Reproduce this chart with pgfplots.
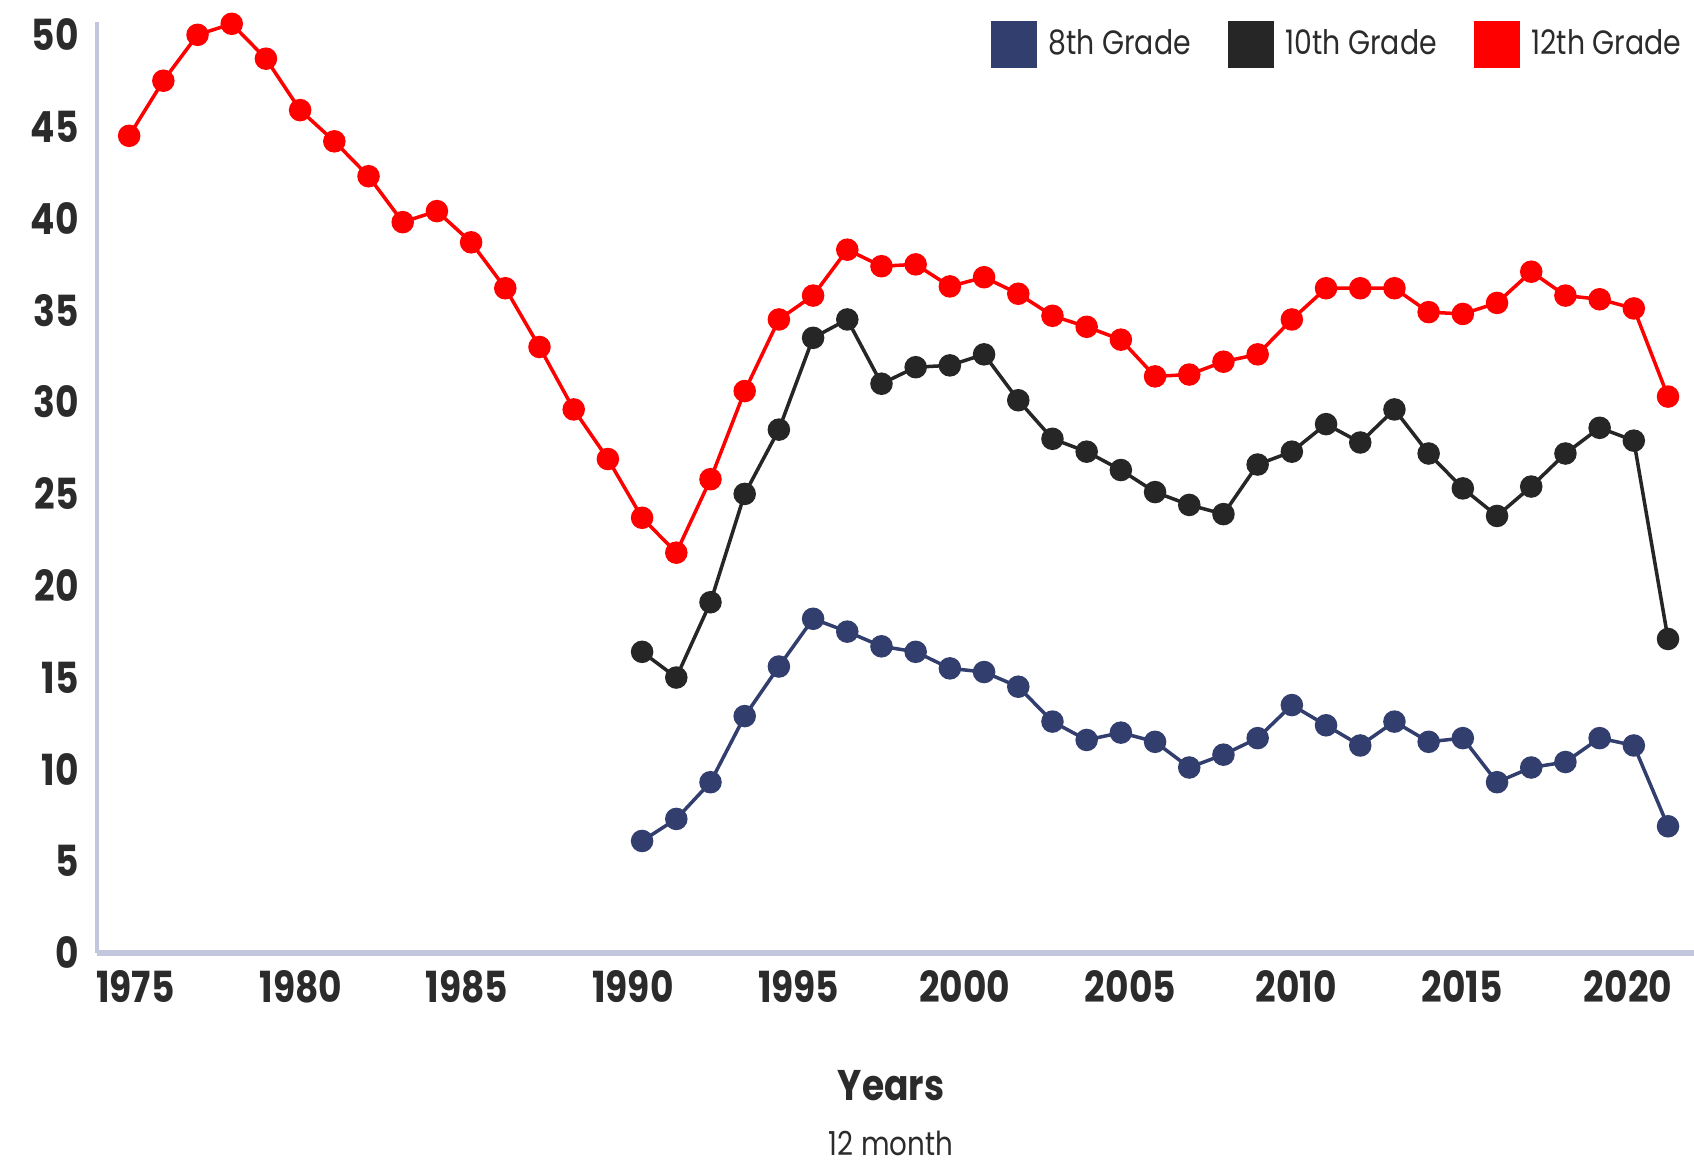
\documentclass[border=0pt]{standalone}
\usepackage{fontspec}
\setmainfont[FakeStretch=0.84]{Poppins}
\usepackage{pgfplots}
\pgfplotsset{compat=1.18}
\usepackage{xcolor}
\definecolor{gradeEight}{HTML}{323E6E}
\definecolor{gradeTen}{HTML}{262626}
\definecolor{gradeTwelve}{HTML}{FF0000}
\definecolor{axisLav}{HTML}{C3C7DE}
\definecolor{textDark}{HTML}{2B2B2B}

\pgfplotstableread{
year val
1991 6.1
1992 7.3
1993 9.3
1994 12.9
1995 15.6
1996 18.2
1997 17.5
1998 16.7
1999 16.4
2000 15.5
2001 15.3
2002 14.5
2003 12.6
2004 11.6
2005 12.0
2006 11.5
2007 10.1
2008 10.8
2009 11.7
2010 13.5
2011 12.4
2012 11.3
2013 12.6
2014 11.5
2015 11.7
2016 9.3
2017 10.1
2018 10.4
2019 11.7
2020 11.3
2021 6.9
}\eighth

\pgfplotstableread{
year val
1991 16.4
1992 15.0
1993 19.1
1994 25.0
1995 28.5
1996 33.5
1997 34.5
1998 31.0
1999 31.9
2000 32.0
2001 32.6
2002 30.1
2003 28.0
2004 27.3
2005 26.3
2006 25.1
2007 24.4
2008 23.9
2009 26.6
2010 27.3
2011 28.8
2012 27.8
2013 29.6
2014 27.2
2015 25.3
2016 23.8
2017 25.4
2018 27.2
2019 28.6
2020 27.9
2021 17.1
}\tenth

\pgfplotstableread{
year val
1976 44.5
1977 47.5
1978 50.0
1979 50.6
1980 48.7
1981 45.9
1982 44.2
1983 42.3
1984 39.8
1985 40.4
1986 38.7
1987 36.2
1988 33.0
1989 29.6
1990 26.9
1991 23.7
1992 21.8
1993 25.8
1994 30.6
1995 34.5
1996 35.8
1997 38.3
1998 37.4
1999 37.5
2000 36.3
2001 36.8
2002 35.9
2003 34.7
2004 34.1
2005 33.4
2006 31.4
2007 31.5
2008 32.2
2009 32.6
2010 34.5
2011 36.2
2012 36.2
2013 36.2
2014 34.9
2015 34.8
2016 35.4
2017 37.1
2018 35.8
2019 35.6
2020 35.1
2021 30.3
}\twelfth

\begin{document}
\begin{tikzpicture}
\path[use as bounding box] (-0.97cm,-2.11cm) rectangle (15.97cm,9.53cm);
\begin{axis}[
  at={(0,0)}, anchor=south west,
  scale only axis, width=15.97cm, height=9.31cm,
  xmin=1975.06, xmax=2021.76, ymin=0, ymax=50.7,
  axis lines*=left,
  x axis line style={axisLav, line width=1.5pt, -},
  y axis line style={axisLav, line width=1.2pt, -},
  major tick length=0pt,
  xtick={1976.18,1981.03,1985.88,1990.73,1995.58,2000.43,2005.28,2010.13,2014.98,2019.83},
  xticklabels={1975,1980,1985,1990,1995,2000,2005,2010,2015,2020},
  ytick={0,5,...,50},
  /pgf/number format/assume math mode=true,
  ticklabel style={font=\fontsize{12.2}{14}\selectfont\bfseries, color=textDark},
  yticklabel style={xshift=-0.06cm},
  xticklabel style={yshift=-0.05cm},
  clip=false,
  legend style={at={(1,1)}, anchor=north east, draw=none, fill=none,
    inner sep=0pt, xshift=-0.05cm, yshift=0.02cm,
    font=\fontsize{9.6}{11}\selectfont, text=textDark,
    legend columns=3,
    /tikz/every odd column/.append style={column sep=0.04cm},
    /tikz/every even column/.append style={column sep=0.3cm}},
  legend cell align=left,
  legend image code/.code={\fill[#1] (0cm,-0.22cm) rectangle (0.43cm,0.22cm);},
]
\addplot[color=gradeEight, line width=1pt, mark=*, mark size=2.7pt] table[x=year,y=val] {\eighth};
\addlegendentry{8th Grade}
\addplot[color=gradeTen, line width=1pt, mark=*, mark size=2.7pt] table[x=year,y=val] {\tenth};
\addlegendentry{10th Grade}
\addplot[color=gradeTwelve, line width=1pt, mark=*, mark size=2.7pt] table[x=year,y=val] {\twelfth};
\addlegendentry{12th Grade}
\end{axis}
\node[font=\fontsize{12.2}{14}\selectfont\bfseries, text=textDark] at (7.94cm,-1.33cm) {Years};
\node[font=\fontsize{9.4}{11}\selectfont, text=textDark] at (7.94cm,-1.90cm) {12 month};
\end{tikzpicture}
\end{document}
